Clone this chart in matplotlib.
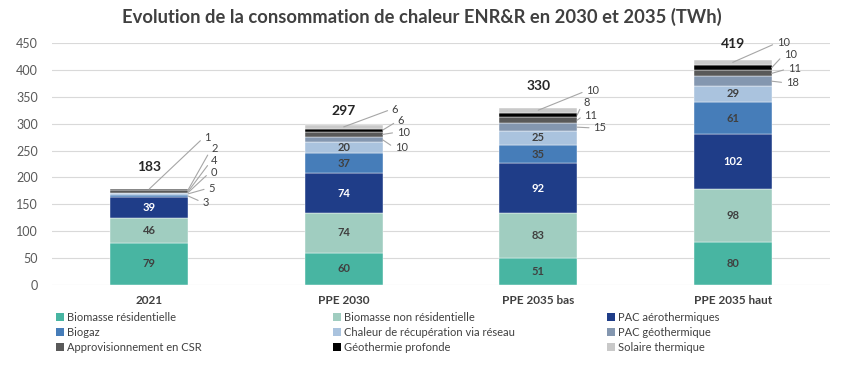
import matplotlib
matplotlib.use("Agg")
import matplotlib.pyplot as plt
import numpy as np
from matplotlib.patches import Patch

plt.rcParams['font.family'] = ['Lato', 'DejaVu Sans']

# data
categories = ['2021', 'PPE 2030', 'PPE 2035 bas', 'PPE 2035 haut']
series = ['Biomasse résidentielle', 'Biomasse non résidentielle', 'PAC aérothermiques',
          'Biogaz', 'Chaleur de récupération via réseau', 'PAC géothermique',
          'Approvisionnement en CSR', 'Géothermie profonde', 'Solaire thermique']
biomasse_res     = [79, 60, 51, 80]
biomasse_non_res = [46, 74, 83, 98]
pac_aero         = [39, 74, 92, 102]
biogaz           = [3, 37, 35, 61]
chaleur_recup    = [5, 20, 25, 29]
pac_geo          = [0, 10, 15, 18]
csr              = [4, 10, 11, 11]
geo_profonde     = [2, 6, 8, 10]
solaire          = [1, 6, 10, 10]
totals           = [183, 297, 330, 419]

values = np.array([biomasse_res, biomasse_non_res, pac_aero, biogaz, chaleur_recup,
                   pac_geo, csr, geo_profonde, solaire], dtype=float)

colors = ['#48B5A2', '#A0CDC0', '#1F3D88', '#467DB9', '#AAC3DE',
          '#8497B0', '#595959', '#000000', '#C9C9C9']
inner_txt = ['#404040', '#404040', 'white', '#404040', '#404040']

# layout of the small-segment callouts (series index, label height, x offset in px)
callouts = [
    [(8, 275, 16), (7, 253, 23), (6, 231, 23), (5, 210, 22), (4, 180, 20), (3, 154, 14)],
    [(8, 327, 9), (7, 305, 15), (6, 284, 14), (5, 255, 12)],
    [(8, 361, 9), (7, 340, 6), (6, 316, 7), (5, 292, 16)],
    [(8, 450, 5), (7, 428, 12), (6, 402, 16), (5, 376, 14)],
]
total_y = [219, 323, 370, 448]

fig = plt.figure(figsize=(8.43, 3.76), dpi=100)
ax = fig.add_axes([52 / 843, 1 - 285 / 376, 778 / 843, 242 / 376])

x = np.arange(len(categories))
width = 0.40
px = 1 / 194.5  # one pixel in x data units
bottoms = np.zeros(len(categories))
for i in range(len(series)):
    ax.bar(x, values[i], width, bottom=bottoms, color=colors[i],
           edgecolor='white', linewidth=0.3, zorder=3)
    bottoms += values[i]

cum = np.vstack([np.zeros(len(categories)), np.cumsum(values, axis=0)])

for j in range(len(categories)):
    called = [c[0] for c in callouts[j]]
    for i in range(5):
        if i in called:
            continue
        mid = (cum[i, j] + cum[i + 1, j]) / 2
        ax.text(x[j], mid, f'{int(values[i, j])}', ha='center', va='center',
                fontsize=8, fontweight='bold', color=inner_txt[i], zorder=4)
    for (i, ly, dx) in callouts[j]:
        mid = (cum[i, j] + cum[i + 1, j]) / 2
        if i == 8:
            ax_pt = (x[j], mid)
        else:
            ax_pt = (x[j] + width / 2, mid)
        ax.annotate(f'{int(values[i, j])}', xy=ax_pt,
                    xytext=(x[j] + width / 2 + dx * px, ly),
                    ha='left', va='center', fontsize=8, color='#404040',
                    arrowprops=dict(arrowstyle='-', color='#A6A6A6', lw=0.8,
                                    shrinkA=1, shrinkB=0, relpos=(0, 0.5)),
                    zorder=5, annotation_clip=False)
    ax.text(x[j], total_y[j], str(totals[j]), ha='center', va='center',
            fontsize=10, fontweight='bold', color='#262626', zorder=5)

ax.set_xlim(-0.5, 3.5)
ax.set_ylim(0, 450)
ax.set_yticks(range(0, 451, 50))
ax.yaxis.grid(True, color='#D9D9D9', lw=0.8, zorder=0)
ax.set_axisbelow(True)
for s in ax.spines.values():
    s.set_visible(False)
ax.tick_params(axis='y', length=0, labelsize=9, colors='#595959', pad=10)
ax.tick_params(axis='x', length=0, labelsize=8.5, colors='#404040', pad=7)
ax.set_xticks(x)
ax.set_xticklabels(categories, fontweight='bold')

fig.text(0.5, 0.955, 'Evolution de la consommation de chaleur ENR&R en 2030 et 2035 (TWh)',
         ha='center', va='center', fontsize=13.2, fontweight='bold', color='#404040')

# legend: three separate columns
col_x = [56, 333, 607]
for c in range(3):
    handles = [Patch(facecolor=colors[k], edgecolor='none') for k in range(c, 9, 3)]
    labels = [series[k] for k in range(c, 9, 3)]
    fig.legend(handles, labels, loc='upper left', bbox_to_anchor=(col_x[c] / 843, 1 - 312 / 376),
               frameon=False, fontsize=8, handlelength=0.7, handleheight=0.7,
               handletextpad=0.3, labelspacing=0.35, borderaxespad=0, borderpad=0,
               labelcolor='#404040')

fig.savefig('out.png', dpi=100)
